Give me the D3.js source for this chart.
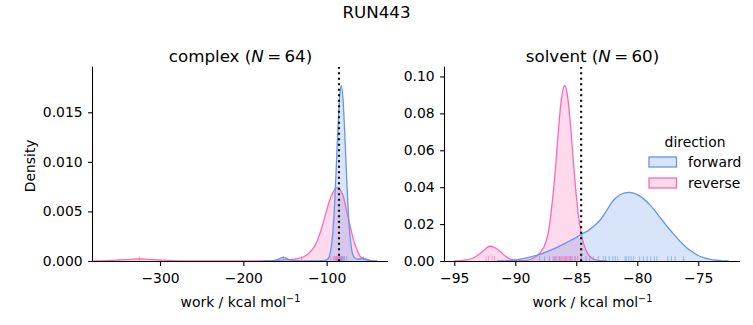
<!DOCTYPE html>
<html>
<head>
<meta charset="utf-8">
<script src="https://cdn.jsdelivr.net/npm/d3@7"></script>
<style>
  html, body { margin: 0; padding: 0; background: #fff; }
  svg { display: block; font-family: "DejaVu Sans", sans-serif; }
</style>
</head>
<body>
<svg id="chart" width="753" height="325"></svg>
<script>
// ---------------- DATA ----------------
const suptitle = "RUN443";
const directions = ["forward", "reverse"];
const colors = ["#6495ED", "#FF69B4"];

// complex panel: KDE curves [work, density]
const complexForward = [
  [-175, 0], [-165, 0.00002], [-158, 0.00018], [-152, 0.00037], [-146, 0.00018], [-138, 0.00003],
  [-125, 0.00001], [-110, 0.00002], [-102, 0.00006], [-98.5, 0.0002], [-96.5, 0.00055], [-94.5, 0.0014],
  [-92.5, 0.0030], [-90.5, 0.0057], [-88.5, 0.0094], [-86.5, 0.0133], [-84.5, 0.0165], [-82.5, 0.0177],
  [-80.5, 0.0165], [-78.5, 0.0133], [-76.5, 0.0094], [-74.5, 0.0057], [-72.5, 0.0030], [-70.5, 0.0014],
  [-68.5, 0.0006], [-66, 0.0003], [-62, 0.0002], [-58, 0.00025], [-56, 0.00027], [-52, 0.00018],
  [-48, 0.00007], [-44, 0.00002], [-40, 0]
];
const complexReverse = [
  [-380, 0.00001], [-365, 0.00004], [-350, 0.0001], [-335, 0.00017], [-325, 0.0002], [-315, 0.00017],
  [-300, 0.0001], [-285, 0.00004], [-270, 0.00002], [-240, 0.00001], [-200, 0.00001], [-170, 0.00003],
  [-155, 0.00007], [-145, 0.00013], [-135, 0.00024], [-128, 0.0004], [-120, 0.0009], [-116, 0.0013],
  [-112, 0.0019], [-108, 0.0028], [-104, 0.0039], [-100, 0.0051], [-96, 0.0062], [-92, 0.0070],
  [-88, 0.0074], [-84, 0.0072], [-80, 0.0065], [-76, 0.0050], [-72, 0.0036], [-68, 0.0022],
  [-64, 0.0012], [-60, 0.0005], [-55, 0.0002], [-50, 0.00007], [-45, 0.00002], [-40, 0]
];
const complexRugForward = [-152, -90, -88, -86.5, -85, -84, -83, -82.2, -81.5, -80.5, -79.5, -78.5, -76, -56];
const complexRugReverse = [-325, -130, -95, -92, -90, -89, -88, -87, -86, -85, -84, -83, -82];
const complexRef = -85.2;

// solvent panel
const solventForward = [
  [-91.5, 0], [-90.5, 0.0002], [-90, 0.0005], [-89.5, 0.0011], [-89, 0.0018], [-88.5, 0.0026],
  [-88, 0.0036], [-87.5, 0.0048], [-87, 0.0062], [-86.5, 0.0077], [-86, 0.0093], [-85.5, 0.0110],
  [-85, 0.0128], [-84.5, 0.0148], [-84, 0.0166], [-83.5, 0.0192], [-83, 0.0225], [-82.5, 0.0275],
  [-82, 0.0325], [-81.5, 0.0355], [-81, 0.0369], [-80.7, 0.0372], [-80.3, 0.0368], [-80, 0.0360],
  [-79.5, 0.0338], [-79, 0.0307], [-78.5, 0.0268], [-78, 0.0225], [-77.5, 0.0183], [-77, 0.0144],
  [-76.5, 0.0107], [-76, 0.0075], [-75.5, 0.0050], [-75, 0.0030], [-74.5, 0.0017], [-74, 0.0009],
  [-73.5, 0.0004], [-73, 0.0001], [-72.5, 0]
];
const solventReverse = [
  [-95, 0], [-94.5, 0.0002], [-94, 0.0006], [-93.5, 0.0015], [-93, 0.0035], [-92.5, 0.0062],
  [-92.1, 0.0080], [-91.7, 0.0073], [-91.2, 0.0050], [-90.8, 0.0025], [-90.4, 0.0010], [-90, 0.0004],
  [-89.5, 0.0002], [-89, 0.0005], [-88.5, 0.0016], [-88, 0.0042], [-87.5, 0.0100], [-87.25, 0.017],
  [-87, 0.030], [-86.75, 0.0466], [-86.5, 0.0679], [-86.25, 0.0861], [-85.95, 0.0951], [-85.75, 0.0909],
  [-85.5, 0.0759], [-85.25, 0.0551], [-85, 0.0355], [-84.75, 0.021], [-84.5, 0.012], [-84.25, 0.0065],
  [-84, 0.0035], [-83.75, 0.0018], [-83.5, 0.0008], [-83, 0.0002], [-82.5, 0]
];
const solventRugForward = [-88.0, -87.6, -87.2, -86.8, -86.4, -85.9, -85.5, -85.1, -84.6, -84.2, -83.9,
  -83.6, -83.2, -82.8, -82.6, -82.3, -82.0, -81.8, -81.6, -81.0, -80.9, -80.7, -80.5, -80.3, -79.8,
  -79.5, -79.2, -78.9, -78.6, -78.4, -77.5, -77.2, -76.9, -76.2];
const solventRugReverse = [-92.4, -92.2, -91.9, -91.7, -86.9, -86.7, -86.6, -86.4, -86.3, -86.2, -86.1,
  -86.0, -85.9, -85.8, -85.7, -85.6, -85.5, -85.4, -85.3, -85.1, -84.9, -84.6];
const solventRef = -84.6;

const complexXTicks = [-300, -200, -100];
const complexYTicks = [0, 0.005, 0.010, 0.015];
const solventXTicks = [-95, -90, -85, -80, -75];
const solventYTicks = [0, 0.02, 0.04, 0.06, 0.08, 0.10];

// ---------------- DRAW ----------------
const svg = d3.select("#chart");
const TICK_FS = 13.9, LABEL_FS = 13.9, TITLE_FS = 16.7;

svg.append("text").attr("x", 376.5).attr("y", 18).attr("text-anchor", "middle")
  .attr("font-size", TITLE_FS).attr("fill", "#000").text(suptitle);

function panel(cfg) {
  const { left, right, top, bottom } = cfg;
  const x = d3.scaleLinear().domain(cfg.xDomain).range([left, right]);
  const y = d3.scaleLinear().domain(cfg.yDomain).range([bottom, top]);
  const g = svg.append("g");
  const clipId = "clip" + cfg.id;
  svg.append("clipPath").attr("id", clipId).append("rect")
    .attr("x", left).attr("y", top).attr("width", right - left).attr("height", bottom - top);
  const plot = g.append("g").attr("clip-path", `url(#${clipId})`);

  const area = d3.area().x(d => x(d[0])).y0(y(0)).y1(d => y(d[1])).curve(d3.curveMonotoneX);
  const line = d3.line().x(d => x(d[0])).y(d => y(d[1])).curve(d3.curveMonotoneX);

  // seaborn draws hue levels in reverse order
  const series = [[cfg.rev, colors[1]], [cfg.fwd, colors[0]]];
  series.forEach(([data, c]) => {
    plot.append("path").datum(data).attr("d", area).attr("fill", c).attr("fill-opacity", 0.25);
    plot.append("path").datum(data).attr("d", line).attr("fill", "none").attr("stroke", c)
      .attr("stroke-width", 1.3);
  });

  // rugs
  const rugH = (bottom - top) * 0.025;
  [[cfg.rugFwd, colors[0]], [cfg.rugRev, colors[1]]].forEach(([vals, c]) => {
    plot.selectAll(null).data(vals).enter().append("line")
      .attr("x1", d => x(d)).attr("x2", d => x(d))
      .attr("y1", bottom).attr("y2", bottom - rugH)
      .attr("stroke", c).attr("stroke-width", 1).attr("stroke-opacity", 0.6);
  });

  // reference dotted line
  plot.append("line").attr("x1", x(cfg.ref)).attr("x2", x(cfg.ref))
    .attr("y1", top).attr("y2", bottom)
    .attr("stroke", "#000").attr("stroke-width", 2.1).attr("stroke-dasharray", "2.1,3.4");

  // axes
  const xAxis = d3.axisBottom(x).tickValues(cfg.xTicks).tickSize(4.9).tickPadding(7.5)
    .tickFormat(d3.format("d"));
  const yAxis = d3.axisLeft(y).tickValues(cfg.yTicks).tickSize(4.9).tickPadding(5.5)
    .tickFormat(d3.format(cfg.yFmt));
  const gx = g.append("g").attr("transform", `translate(0,${bottom})`).call(xAxis);
  const gy = g.append("g").attr("transform", `translate(${left},0)`).call(yAxis);
  [gx, gy].forEach(a => {
    a.select(".domain").attr("stroke", "#000").attr("stroke-width", 1.1);
    a.selectAll(".tick line").attr("stroke", "#000").attr("stroke-width", 1.1);
    a.selectAll(".tick text").attr("font-size", TICK_FS).attr("fill", "#000")
      .attr("font-family", "DejaVu Sans");
  });
  gx.select(".domain").attr("d", `M${left},0.5H${right}`);
  gy.select(".domain").attr("d", `M-0.5,${bottom}V${top}`);

  // title
  const t = g.append("text").attr("x", (left + right) / 2).attr("y", top - 5)
    .attr("text-anchor", "middle").attr("font-size", TITLE_FS).attr("fill", "#000");
  t.append("tspan").text(cfg.title + " (");
  t.append("tspan").attr("font-style", "italic").text("N");
  t.append("tspan").text("\u2009=\u2009" + cfg.n + ")");

  // x label
  const xl = g.append("text").attr("x", (left + right) / 2).attr("y", 307)
    .attr("text-anchor", "middle").attr("font-size", LABEL_FS).attr("fill", "#000");
  xl.append("tspan").text("work / kcal mol");
  xl.append("tspan").attr("font-size", LABEL_FS * 0.7).attr("dy", -5).text("\u22121");

  if (cfg.ylabel) {
    g.append("text").attr("transform", `translate(35,${(top + bottom) / 2 + 2}) rotate(-90)`)
      .attr("text-anchor", "middle").attr("font-size", LABEL_FS).attr("fill", "#000").text(cfg.ylabel);
  }
}

panel({
  id: "c", left: 93, right: 388, top: 66.7, bottom: 261,
  xDomain: [-380.4, -26.4], yDomain: [0, 0.0196],
  fwd: complexForward, rev: complexReverse,
  rugFwd: complexRugForward, rugRev: complexRugReverse, ref: complexRef,
  xTicks: complexXTicks, yTicks: complexYTicks, yFmt: ".3f",
  title: "complex", n: 64, ylabel: "Density"
});
panel({
  id: "s", left: 445, right: 740, top: 66.7, bottom: 261,
  xDomain: [-95.76, -71.58], yDomain: [0, 0.1053],
  fwd: solventForward, rev: solventReverse,
  rugFwd: solventRugForward, rugRev: solventRugReverse, ref: solventRef,
  xTicks: solventXTicks, yTicks: solventYTicks, yFmt: ".2f",
  title: "solvent", n: 60, ylabel: null
});

// legend
const lg = svg.append("g");
lg.append("text").attr("x", 695).attr("y", 146.5).attr("text-anchor", "middle")
  .attr("font-size", LABEL_FS).attr("fill", "#000").text("direction");
directions.forEach((d, i) => {
  const yTop = 157 + i * 21;
  lg.append("rect").attr("x", 649).attr("y", yTop).attr("width", 27.5).attr("height", 10)
    .attr("fill", colors[i]).attr("fill-opacity", 0.25)
    .attr("stroke", colors[i]).attr("stroke-width", 1.3);
  lg.append("text").attr("x", 688).attr("y", yTop + 9.5).attr("font-size", LABEL_FS)
    .attr("fill", "#000").text(d);
});
</script>
</body>
</html>
